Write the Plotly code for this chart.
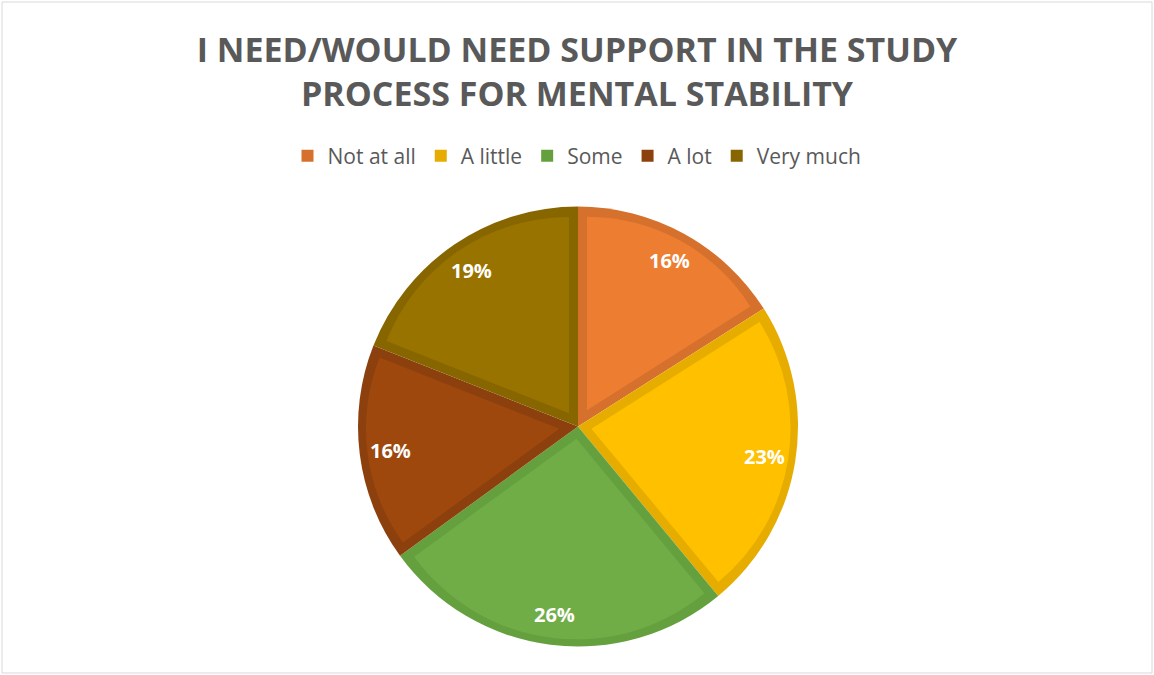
import numpy as np
import plotly.graph_objects as go

categories = ["Not at all", "A little", "Some", "A lot", "Very much"]
values = [16, 23, 26, 16, 19]
fill_colors = ["#ED7D31", "#FFC000", "#70AD47", "#9E480E", "#997300"]
border_colors = ["#D5712D", "#E6AD00", "#65A03F", "#8C400D", "#876600"]
title_text = "I NEED/WOULD NEED SUPPORT IN THE STUDY<br>PROCESS FOR MENTAL STABILITY"

W, H = 1154, 675
CX, CY, R = 578, 426.5, 220
BW = 9  # border band width (px)
FONT = "Open Sans"


def dom(cx, cy, r):
    return dict(x=[(cx - r) / W, (cx + r) / W], y=[1 - (cy + r) / H, 1 - (cy - r) / H])


fig = go.Figure()

# base pie: darker border colour fills the full slice
fig.add_trace(go.Pie(
    labels=categories, values=values, sort=False, direction="clockwise", rotation=0,
    marker=dict(colors=border_colors, line=dict(width=0)),
    textinfo="none", domain=dom(CX, CY, R), hoverinfo="label+percent",
))

total = float(sum(values))
start = 0.0
annotations = []
for i, (lab, v) in enumerate(zip(categories, values)):
    theta = 2 * np.pi * v / total
    half = theta / 2
    mid = start + half
    d = BW / np.sin(half)
    ax = CX + d * np.sin(mid)
    ay = CY - d * np.cos(mid)
    r2 = R - BW - d * (1 + np.cos(half)) / 2
    fig.add_trace(go.Pie(
        labels=[f"in{i}", f"rest{i}"], values=[v, total - v], sort=False,
        direction="clockwise", rotation=float(np.degrees(start)),
        marker=dict(colors=[fill_colors[i], "rgba(0,0,0,0)"], line=dict(width=0)),
        textinfo="none", hoverinfo="skip", showlegend=False, domain=dom(ax, ay, r2),
    ))
    lr = 0.86 * R
    tx = CX + lr * np.sin(mid)
    ty = CY - lr * np.cos(mid)
    annotations.append(dict(
        x=tx / W, y=1 - ty / H, xref="paper", yref="paper", showarrow=False,
        text=f"<b>{v / total * 100:.0f}%</b>",
        font=dict(family=FONT, size=20, color="white"),
        xanchor="center", yanchor="middle",
    ))
    start += theta

fig.update_layout(
    width=W, height=H,
    margin=dict(l=0, r=0, t=0, b=0),
    paper_bgcolor="white", plot_bgcolor="white",
    title=dict(
        text=f"<b>{title_text}</b>", x=0.5, xanchor="center",
        y=1 - 62 / H, yanchor="middle",
        font=dict(family=FONT, size=34, color="#595959"),
    ),
    legend=dict(
        orientation="h", x=0.5, xanchor="center", y=1 - 156 / H, yanchor="middle",
        font=dict(family=FONT, size=21, color="#595959"),
        traceorder="normal",
    ),
    annotations=annotations,
    shapes=[dict(type="rect", xref="paper", yref="paper", x0=2 / W, x1=1 - 2 / W,
                 y0=2 / H, y1=1 - 2 / H, line=dict(color="#D9D9D9", width=1))],
)

fig.write_html("out.html")
